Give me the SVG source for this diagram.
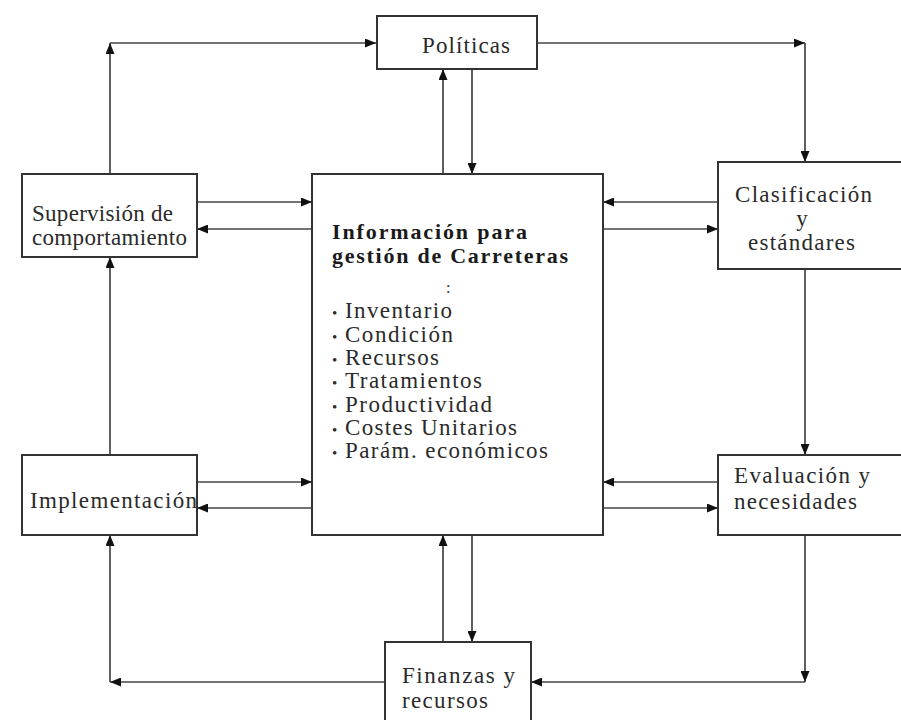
<svg xmlns="http://www.w3.org/2000/svg" width="901" height="720" viewBox="0 0 901 720">
<defs>
<marker id="ah" markerUnits="userSpaceOnUse" markerWidth="11" markerHeight="9" refX="11" refY="4.5" orient="auto">
<path d="M0,0 L11,4.5 L0,9 z" fill="#111"/>
</marker>
<style>
.box{fill:#fff;stroke:#333;stroke-width:2}
.t{font-family:"Liberation Serif","Times New Roman","DejaVu Serif",serif;font-size:23px;fill:#2a2a2a}
.b{font-family:"Liberation Serif","Times New Roman","DejaVu Serif",serif;font-size:22px;font-weight:bold;fill:#1a1a1a}
.c{fill:none;stroke:#444;stroke-width:1.7;marker-end:url(#ah)}
</style>
</defs>
<rect x="0" y="0" width="901" height="720" fill="#fff"/>
<g id="connectors">
<path class="c" d="M110,174 V43"/>
<path class="c" d="M110,43 H376"/>
<path class="c" d="M537,43 H805"/>
<path class="c" d="M805,43 V162"/>
<path class="c" d="M805,269 V455"/>
<path class="c" d="M805,535 V682"/>
<path class="c" d="M805,682 H531"/>
<path class="c" d="M385,682 H110"/>
<path class="c" d="M110,682 V535"/>
<path class="c" d="M110,455 V257"/>
<path class="c" d="M197,202 H312"/>
<path class="c" d="M312,229 H197"/>
<path class="c" d="M197,482 H312"/>
<path class="c" d="M312,508 H197"/>
<path class="c" d="M718,202 H603"/>
<path class="c" d="M603,229 H718"/>
<path class="c" d="M718,482 H603"/>
<path class="c" d="M603,508 H718"/>
<path class="c" d="M472,69 V174"/>
<path class="c" d="M443,174 V69"/>
<path class="c" d="M472,535 V642"/>
<path class="c" d="M443,642 V535"/>
</g>
<g id="politicas">
<rect class="box" x="377" y="16" width="160" height="53"/>
<text class="t" x="422" y="53" textLength="88">Políticas</text>
</g>
<g id="supervision">
<rect class="box" x="22" y="174" width="175" height="83"/>
<text class="t" x="32" y="221" textLength="141">Supervisión de</text>
<text class="t" x="32" y="245" textLength="155">comportamiento</text>
</g>
<g id="informacion">
<rect class="box" x="312" y="174" width="291" height="361"/>
<text class="b" x="332" y="239" textLength="195">Información para</text>
<text class="b" x="332" y="263" textLength="236">gestión de Carreteras</text>
<text class="t" x="446" y="293" style="font-size:16px">:</text>
<text class="t" x="332" y="318"><tspan style="font-size:15px">•</tspan><tspan x="345" textLength="107">Inventario</tspan></text>
<text class="t" x="332" y="342"><tspan style="font-size:15px">•</tspan><tspan x="345" textLength="108">Condición</tspan></text>
<text class="t" x="332" y="365"><tspan style="font-size:15px">•</tspan><tspan x="345" textLength="94">Recursos</tspan></text>
<text class="t" x="332" y="388"><tspan style="font-size:15px">•</tspan><tspan x="345" textLength="137">Tratamientos</tspan></text>
<text class="t" x="332" y="412"><tspan style="font-size:15px">•</tspan><tspan x="345" textLength="147">Productividad</tspan></text>
<text class="t" x="332" y="435"><tspan style="font-size:15px">•</tspan><tspan x="345" textLength="172">Costes Unitarios</tspan></text>
<text class="t" x="332" y="458"><tspan style="font-size:15px">•</tspan><tspan x="345" textLength="203">Parám. económicos</tspan></text>
</g>
<g id="clasificacion">
<rect class="box" x="718" y="162" width="200" height="107"/>
<text class="t" x="735" y="202" textLength="137">Clasificación</text>
<text class="t" x="802" y="226" text-anchor="middle">y</text>
<text class="t" x="748" y="250" textLength="107">estándares</text>
</g>
<g id="evaluacion">
<rect class="box" x="718" y="455" width="200" height="80"/>
<text class="t" x="734" y="483" textLength="136">Evaluación y</text>
<text class="t" x="734" y="509" textLength="123">necesidades</text>
</g>
<g id="finanzas">
<rect class="box" x="385" y="642" width="146" height="90"/>
<text class="t" x="402" y="683" textLength="113">Finanzas y</text>
<text class="t" x="402" y="708" textLength="86">recursos</text>
</g>
<g id="implementacion">
<rect class="box" x="22" y="455" width="175" height="80"/>
<text class="t" x="30" y="508" textLength="167">Implementación</text>
</g>
</svg>
